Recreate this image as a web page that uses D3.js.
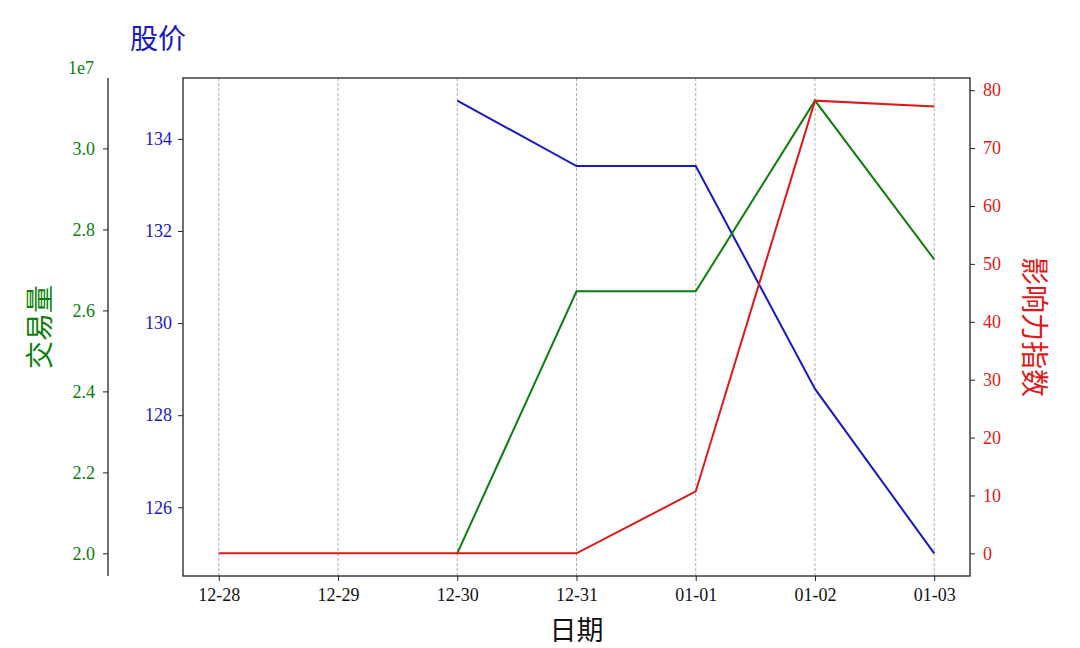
<!DOCTYPE html>
<html lang="zh">
<head>
<meta charset="utf-8">
<title>股价 / 交易量 / 影响力指数</title>
<script src="https://d3js.org/d3.v7.min.js"></script>
<style>
    body { margin: 0; background: #fff; }
    svg { display: block; }
    .tick text { font-family: "Liberation Serif", "DejaVu Serif", serif; font-size: 18px; }
    .cjk { font-family: "Noto Sans CJK SC", sans-serif; }
</style>
</head>
<body>
<div id="chart"></div>
<script>
// data
var dates = ["12-28", "12-29", "12-30", "12-31", "01-01", "01-02", "01-03"];
var price = [null, null, 134.83, 133.41, 133.41, 128.57, 125.0];
var volume = [null, null, 2.0e7, 2.647e7, 2.647e7, 3.118e7, 2.726e7];
var influence = [0, 0, 0, 0, 10.7, 78.2, 77.2];

var width = 1080, height = 648;
var plotLeft = 183, plotRight = 970, plotTop = 78, plotBottom = 576;
var blue = "#1818c8", green = "#0b7f0b", red = "#e01818";

var svg = d3.select("#chart").append("svg")
    .attr("width", width)
    .attr("height", height);

// matplotlib style 5% margins
function padded(vals)
{
    var ext = d3.extent(vals.filter(function(v) { return v !== null; }));
    var pad = (ext[1] - ext[0]) * 0.05;
    return [ext[0] - pad, ext[1] + pad];
}

var x = d3.scaleLinear().domain([-0.3, dates.length - 1 + 0.3]).range([plotLeft, plotRight]);
var yPrice = d3.scaleLinear().domain(padded(price)).range([plotBottom, plotTop]);
var yVol = d3.scaleLinear().domain(padded(volume)).range([plotBottom, plotTop]);
var yInf = d3.scaleLinear().domain(padded(influence)).range([plotBottom, plotTop]);

// vertical dashed grid
svg.append("g").selectAll("line")
    .data(dates)
    .enter()
    .append("line")
    .attr("x1", function(d, i) { return x(i); })
    .attr("x2", function(d, i) { return x(i); })
    .attr("y1", plotTop)
    .attr("y2", plotBottom)
    .attr("stroke", "#999")
    .attr("stroke-width", 0.8)
    .attr("stroke-dasharray", "3,2");

function drawLine(vals, yScale, color)
{
    var line = d3.line()
        .defined(function(d) { return d !== null; })
        .x(function(d, i) { return x(i); })
        .y(function(d) { return yScale(d); });
    svg.append("path")
        .datum(vals)
        .attr("d", line)
        .attr("fill", "none")
        .attr("stroke", color)
        .attr("stroke-width", 2);
}
drawLine(price, yPrice, blue);
drawLine(volume, yVol, green);
drawLine(influence, yInf, red);

// frame
svg.append("rect")
    .attr("x", plotLeft)
    .attr("y", plotTop)
    .attr("width", plotRight - plotLeft)
    .attr("height", plotBottom - plotTop)
    .attr("fill", "none")
    .attr("stroke", "#222")
    .attr("stroke-width", 1.3);

function styleAxis(g, color)
{
    g.select(".domain").remove();
    g.selectAll(".tick line").attr("stroke", "#222").attr("stroke-width", 1);
    g.selectAll(".tick text").attr("fill", color);
}

// x axis
var xAxis = svg.append("g")
    .attr("transform", "translate(0," + plotBottom + ")")
    .call(d3.axisBottom(x)
        .tickValues(d3.range(dates.length))
        .tickFormat(function(i) { return dates[i]; })
        .tickSize(5)
        .tickPadding(7));
styleAxis(xAxis, "#111");

// blue price axis
var pAxis = svg.append("g")
    .attr("transform", "translate(" + plotLeft + ",0)")
    .call(d3.axisLeft(yPrice).ticks(6).tickSize(5).tickPadding(6));
styleAxis(pAxis, blue);

// red influence axis
var iAxis = svg.append("g")
    .attr("transform", "translate(" + plotRight + ",0)")
    .call(d3.axisRight(yInf).ticks(8).tickSize(5).tickPadding(8));
styleAxis(iAxis, red);

// green volume axis, offset outward
var volX = 108;
var vAxis = svg.append("g")
    .attr("transform", "translate(" + volX + ",0)")
    .call(d3.axisLeft(yVol).ticks(6).tickSize(5).tickPadding(8)
        .tickFormat(function(d) { return d3.format(".1f")(d / 1e7); }));
styleAxis(vAxis, green);
svg.append("line")
    .attr("x1", volX).attr("x2", volX)
    .attr("y1", plotTop).attr("y2", plotBottom)
    .attr("stroke", "#222")
    .attr("stroke-width", 1.3);

svg.append("text")
    .attr("x", 81)
    .attr("y", 74)
    .attr("text-anchor", "middle")
    .attr("fill", green)
    .style("font-family", "Liberation Serif, serif")
    .style("font-size", "18px")
    .text("1e7");

// labels
svg.append("text")
    .attr("class", "cjk")
    .attr("x", 130)
    .attr("y", 49)
    .attr("fill", blue)
    .style("font-size", "28px")
    .text("股价");

svg.append("text")
    .attr("class", "cjk")
    .attr("transform", "translate(50,327) rotate(-90)")
    .attr("text-anchor", "middle")
    .attr("fill", green)
    .style("font-size", "28px")
    .text("交易量");

svg.append("text")
    .attr("class", "cjk")
    .attr("transform", "translate(1024,327) rotate(90)")
    .attr("text-anchor", "middle")
    .attr("fill", red)
    .style("font-size", "28px")
    .text("影响力指数");

svg.append("text")
    .attr("class", "cjk")
    .attr("x", (plotLeft + plotRight) / 2)
    .attr("y", 640)
    .attr("text-anchor", "middle")
    .attr("fill", "#111")
    .style("font-size", "27px")
    .text("日期");
</script>
</body>
</html>
